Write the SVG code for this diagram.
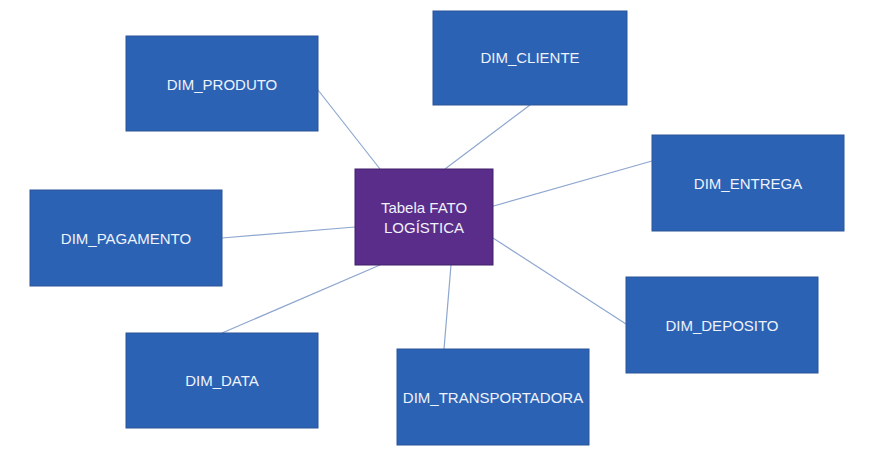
<svg xmlns="http://www.w3.org/2000/svg" width="872" height="450" viewBox="0 0 872 450">
<style>
.dim rect{fill:#2C62B4;stroke:#2A5597;stroke-width:1}
.fact rect{fill:#5B2D8A;stroke:#41206A;stroke-width:1}
text{font-family:"Liberation Sans",Arial,sans-serif;font-size:15px;fill:#EEF2FA;text-anchor:middle}
#connectors line{stroke:#8EA7CF;stroke-width:1.2}
</style>
<rect width="872" height="450" fill="#FFFFFF"/>
<g id="connectors">
<line x1="318" y1="90" x2="380" y2="169"/>
<line x1="530" y1="105" x2="445" y2="169"/>
<line x1="652" y1="161" x2="490" y2="207"/>
<line x1="493" y1="238" x2="626" y2="324"/>
<line x1="451" y1="265" x2="444" y2="349"/>
<line x1="380" y1="265" x2="222" y2="333"/>
<line x1="222" y1="238" x2="355" y2="227"/>
</g>
<g id="fato" class="fact"><rect x="355" y="169" width="138" height="96"/><text x="424" y="213">Tabela FATO</text><text x="424" y="233">LOGÍSTICA</text></g>
<g id="dim_produto" class="dim"><rect x="126" y="36" width="192" height="95"/><text x="222" y="90">DIM_PRODUTO</text></g>
<g id="dim_cliente" class="dim"><rect x="433" y="11" width="194" height="94"/><text x="530" y="63">DIM_CLIENTE</text></g>
<g id="dim_entrega" class="dim"><rect x="652" y="135" width="192" height="96"/><text x="748" y="189">DIM_ENTREGA</text></g>
<g id="dim_pagamento" class="dim"><rect x="30" y="190" width="192" height="96"/><text x="126" y="244">DIM_PAGAMENTO</text></g>
<g id="dim_deposito" class="dim"><rect x="626" y="277" width="192" height="96"/><text x="722" y="331">DIM_DEPOSITO</text></g>
<g id="dim_data" class="dim"><rect x="126" y="333" width="192" height="95"/><text x="222" y="386">DIM_DATA</text></g>
<g id="dim_transportadora" class="dim"><rect x="397" y="349" width="192" height="96"/><text x="493" y="403">DIM_TRANSPORTADORA</text></g>
</svg>
